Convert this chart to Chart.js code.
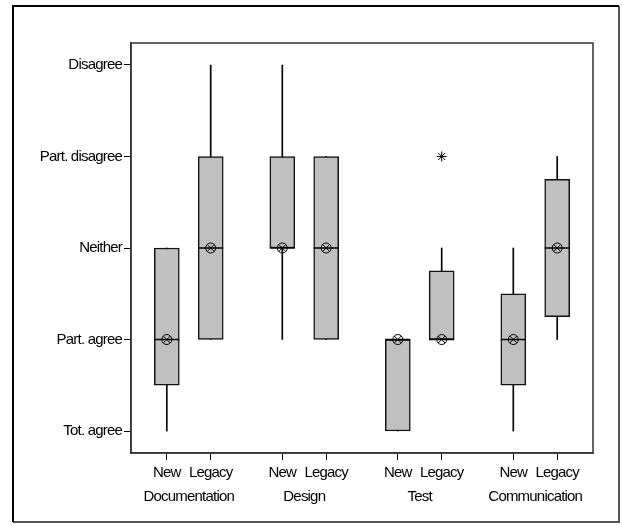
<!DOCTYPE html>
<html>
<head>
<meta charset="utf-8">
<script src="https://cdn.jsdelivr.net/npm/chart.js@4.4.1/dist/chart.umd.min.js"></script>
<style>
html, body { margin: 0; padding: 0; background: #fff; }
#wrap { position: relative; width: 622px; height: 525px; }
</style>
</head>
<body>
<div id="wrap"><canvas id="boxChart"></canvas></div>
<script>
const groups = ["Documentation", "Design", "Test", "Communication"];
const versions = ["New", "Legacy"];
const answers = ["Tot. agree", "Part. agree", "Neither", "Part. disagree", "Disagree"];

// one entry per box: New, Legacy for each group in turn
const mins     = [1,   2, 2, 2, 1, 2,    1,   2];
const q1s      = [1.5, 2, 3, 2, 1, 2,    1.5, 2.25];
const medians  = [2,   3, 3, 3, 2, 2,    2,   3];
const q3s      = [3,   4, 4, 4, 2, 2.75, 2.5, 3.75];
const maxs     = [3,   5, 5, 4, 2, 3,    3,   4];
const means    = [2,   3, 3, 3, 2, 2,    2,   3];
const outliers = [[], [], [], [], [], [4], [], []];

const SIDE = 0.19;
function boxX(i) {
    return Math.floor(i / 2) + (i % 2 === 0 ? -SIDE : SIDE);
}
const boxPositions = mins.map((v, i) => boxX(i));

Chart.defaults.font.family = "'Liberation Sans', Arial, sans-serif";
Chart.defaults.font.size = 15;
Chart.defaults.color = "#000";

const medianLines = {
    id: "medianLines",
    afterDatasetDraw(chart, args) {
        if (args.index !== 1) return;
        const ctx = chart.ctx;
        const y = chart.scales.y;
        ctx.save();
        ctx.strokeStyle = "#000";
        ctx.lineWidth = 1.5;
        args.meta.data.forEach((bar, i) => {
            const py = y.getPixelForValue(medians[i]);
            ctx.beginPath();
            ctx.moveTo(bar.x - bar.width / 2, py);
            ctx.lineTo(bar.x + bar.width / 2, py);
            ctx.stroke();
        });
        ctx.restore();
    }
};

const frames = {
    id: "frames",
    beforeDraw(chart) {
        const ctx = chart.ctx;
        ctx.letterSpacing = "-0.8px";
        ctx.save();
        ctx.lineWidth = 2;
        ctx.strokeStyle = "#555";
        ctx.beginPath();
        ctx.moveTo(619, 6);
        ctx.lineTo(619, 522);
        ctx.lineTo(13, 522);
        ctx.stroke();
        ctx.strokeStyle = "#000";
        ctx.beginPath();
        ctx.moveTo(13, 522);
        ctx.lineTo(13, 6);
        ctx.lineTo(619, 6);
        ctx.stroke();
        ctx.restore();
    },
    afterDraw(chart) {
        const a = chart.chartArea;
        const ctx = chart.ctx;
        ctx.save();
        ctx.strokeStyle = "#333";
        ctx.lineWidth = 1.5;
        ctx.strokeRect(a.left, a.top, a.right - a.left, a.bottom - a.top);
        ctx.restore();
    }
};

const outlierPoints = [];
outliers.forEach((list, i) => {
    list.forEach(v => outlierPoints.push({ x: boxPositions[i], y: v }));
});

new Chart(document.getElementById("boxChart"), {
    type: "bar",
    data: {
        datasets: [{
            label: "whisker",
            data: boxPositions.map((x, i) => ({ x: x, y: [mins[i], maxs[i]] })),
            backgroundColor: "#000",
            borderWidth: 0,
            barThickness: 1,
            grouped: false,
            order: 5
        }, {
            label: "box",
            data: boxPositions.map((x, i) => ({ x: x, y: [q1s[i], q3s[i]] })),
            backgroundColor: "#c0c0c0",
            borderColor: "#111",
            borderWidth: 1.5,
            borderSkipped: false,
            barThickness: 25,
            grouped: false,
            order: 4
        }, {
            type: "line",
            label: "mean",
            data: boxPositions.map((x, i) => ({ x: x, y: means[i] })),
            showLine: false,
            pointStyle: "circle",
            pointRadius: 5,
            pointBackgroundColor: "rgba(0,0,0,0)",
            pointBorderColor: "#000",
            pointBorderWidth: 1,
            order: 1
        }, {
            type: "line",
            label: "mean cross",
            data: boxPositions.map((x, i) => ({ x: x, y: means[i] })),
            showLine: false,
            pointStyle: "crossRot",
            pointRadius: 5,
            pointBorderColor: "#000",
            pointBorderWidth: 1,
            order: 1
        }, {
            type: "line",
            label: "outlier",
            data: outlierPoints,
            showLine: false,
            pointStyle: "star",
            pointRadius: 5,
            pointBorderColor: "#000",
            pointBorderWidth: 1,
            order: 1
        }]
    },
    options: {
        responsive: true,
        maintainAspectRatio: false,
        animation: false,
        events: [],
        layout: { padding: { left: 0, top: 43, right: 29, bottom: 15 } },
        plugins: {
            legend: { display: false },
            tooltip: { enabled: false }
        },
        scales: {
            x: {
                type: "linear",
                position: "bottom",
                weight: 0,
                min: -0.5,
                max: 3.5,
                offset: false,
                afterBuildTicks: s => { s.ticks = boxPositions.map(v => ({ value: v })); },
                ticks: {
                    autoSkip: false,
                    maxRotation: 0,
                    padding: 4,
                    callback: (v, i) => versions[i % 2]
                },
                grid: { offset: false, drawOnChartArea: false, tickLength: 7, tickColor: "#000" },
                border: { color: "#333", width: 1.5 },
                afterFit: s => { s.height = 32; }
            },
            xg: {
                type: "category",
                position: "bottom",
                weight: 1,
                labels: groups,
                offset: true,
                ticks: { padding: 3, autoSkip: false, maxRotation: 0 },
                grid: { display: false, drawTicks: false },
                border: { display: false },
                afterFit: s => { s.height = 25; }
            },
            y: {
                min: 0.76,
                max: 5.24,
                afterBuildTicks: s => { s.ticks = answers.map((a, i) => ({ value: i + 1 })); },
                ticks: { padding: 2, callback: v => answers[v - 1] },
                grid: { drawOnChartArea: false, tickLength: 7, tickColor: "#000" },
                border: { color: "#333", width: 1.5 },
                afterFit: s => { s.width = 131; }
            }
        }
    },
    plugins: [medianLines, frames]
});
</script>
</body>
</html>
